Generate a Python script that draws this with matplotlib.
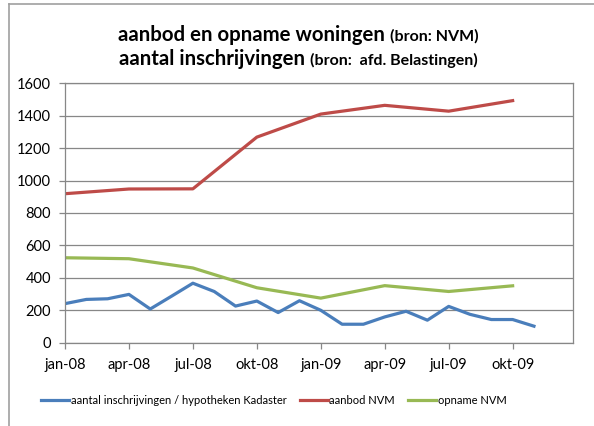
import matplotlib.pyplot as plt
from matplotlib.lines import Line2D

plt.rcParams['font.family'] = ['Lato', 'DejaVu Sans']

# maanden vanaf jan-08 (index 0) t/m nov-09 (index 22)
tick_pos = [0, 3, 6, 9, 12, 15, 18, 21]
tick_labels = ['jan-08', 'apr-08', 'jul-08', 'okt-08', 'jan-09', 'apr-09', 'jul-09', 'okt-09']

# inschrijvingen / hypotheken Kadaster, per maand
kadaster = [241, 267, 271, 298, 208, 287, 367, 316, 226, 257, 186, 259,
            200, 114, 114, 159, 194, 139, 224, 175, 143, 143, 102]

# NVM, per kwartaal
kwartaal = [0, 3, 6, 9, 12, 15, 18, 21]
aanbod = [919, 948, 949, 1268, 1410, 1464, 1428, 1493]
opname = [524, 518, 461, 339, 275, 352, 316, 351]

blauw = '#4a7ebb'
rood = '#be4b48'
groen = '#98b954'
grijs = '#878787'

fig = plt.figure(figsize=(5.94, 4.26), dpi=100)
ax = fig.add_axes([0.1094, 0.1955, 0.8552, 0.609])

ax.plot(range(len(kadaster)), kadaster, color=blauw, lw=2.3, solid_joinstyle='round',
        label='aantal inschrijvingen / hypotheken Kadaster')
ax.plot(kwartaal, aanbod, color=rood, lw=2.3, solid_joinstyle='round', label='aanbod NVM')
ax.plot(kwartaal, opname, color=groen, lw=2.3, solid_joinstyle='round', label='opname NVM')

ax.set_xlim(0, 23.83)
ax.set_ylim(0, 1600)
ax.set_xticks(tick_pos)
ax.set_xticklabels(tick_labels)
ax.set_yticks(range(0, 1601, 200))
ax.yaxis.grid(True, color=grijs, lw=0.9)
ax.set_axisbelow(True)
for s in ax.spines.values():
    s.set_color(grijs)
    s.set_linewidth(0.9)
ax.tick_params(axis='both', colors=grijs, length=4, width=0.9, labelsize=10.5, labelcolor='black')
ax.tick_params(axis='x', pad=7)
ax.tick_params(axis='y', pad=6)

# titel: twee regels, deels kleiner
fig.canvas.draw()
r = fig.canvas.get_renderer()
regels = [('aanbod en opname woningen ', '(bron: NVM)', 385),
          ('aantal inschrijvingen ', '(bron:  afd. Belastingen)', 361)]
for groot, klein, ypx in regels:
    t1 = fig.text(0, ypx / 426, groot, fontsize=14.7, fontweight='bold', va='baseline')
    t2 = fig.text(0, ypx / 426, klein, fontsize=11.5, fontweight='bold', va='baseline')
    w1 = t1.get_window_extent(r).width
    w2 = t2.get_window_extent(r).width
    x0 = 298 - (w1 + w2) / 2
    t1.set_x(x0 / 594)
    t2.set_x((x0 + w1) / 594)

fig.legend(loc='center', bbox_to_anchor=(274 / 594, 26 / 426), ncol=3, frameon=False,
           fontsize=8, handlelength=2.5, handletextpad=0.15, columnspacing=1.2)

# rand van het grafiekgebied (alleen boven en links)
fig.add_artist(Line2D([9 / 594, 9 / 594], [0, 422 / 426], color='#a0a0a0', lw=1.2))
fig.add_artist(Line2D([9 / 594, 1], [422 / 426, 422 / 426], color='#a0a0a0', lw=1.2))

fig.savefig('out.png', dpi=100)
